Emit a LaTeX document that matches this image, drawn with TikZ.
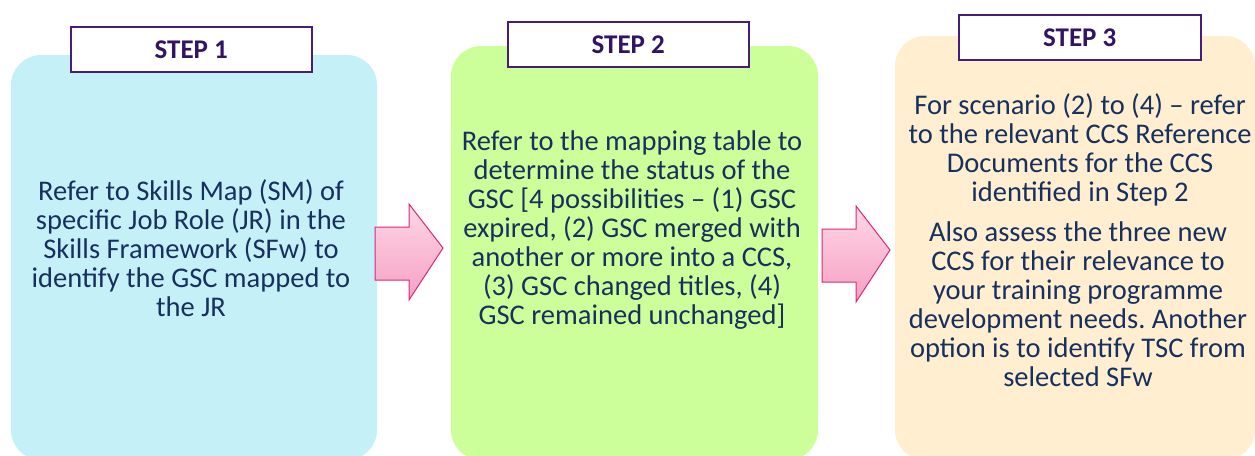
\documentclass[tikz,border=0pt]{standalone}
\usepackage{fontspec}
\setmainfont{Carlito}
\frenchspacing
\usetikzlibrary{shadings}
\definecolor{boxA}{RGB}{198,240,248}
\definecolor{boxB}{RGB}{204,255,153}
\definecolor{boxC}{RGB}{255,238,208}
\definecolor{txt}{RGB}{23,48,94}
\definecolor{steptxt}{RGB}{50,20,100}
\definecolor{stepline}{RGB}{70,30,120}
\definecolor{pinkA}{RGB}{255,215,230}
\definecolor{pinkB}{RGB}{245,160,195}
\definecolor{pinkline}{RGB}{215,40,125}
\tikzset{
  steplabel/.style={draw=stepline, line width=1.5pt, fill=white, font=\fontsize{27}{30}\selectfont\bfseries, text=steptxt},
  bodytext/.style={text=txt, align=center, font=\fontsize{28.5}{29}\selectfont},
  pinkarrow/.style={draw=pinkline, line width=1pt, top color=pinkA, bottom color=pinkB}
}
\begin{document}
\begin{tikzpicture}[x=1pt,y=-1pt]
\useasboundingbox (0,0) rectangle (1255,455);
\begin{scope}
\clip (0,0) rectangle (1255,455);
\fill[boxA, rounded corners=30pt] (11,55) rectangle (377,460);
\fill[boxB, rounded corners=30pt] (451,46) rectangle (818,460);
\fill[boxC, rounded corners=30pt] (895,36) rectangle (1255,460);
\end{scope}
% step labels
\node[steplabel, minimum width=241pt, minimum height=45pt, anchor=north west, inner sep=0pt] (s1) at (70,26) {STEP 1};
\node[steplabel, minimum width=241pt, minimum height=45pt, anchor=north west, inner sep=0pt] (s2) at (507,21) {STEP 2};
\node[steplabel, minimum width=242pt, minimum height=45pt, anchor=north west, inner sep=0pt] (s3) at (958,14) {STEP 3};
% body texts
\node[bodytext] (t1) at (191,248) {Refer to Skills Map (SM) of\\specific Job Role (JR) in the\\Skills Framework (SFw) to\\identify the GSC mapped to\\the JR};
\node[bodytext] (t2) at (632,230) {Refer to the mapping table to\\determine the status of the\\GSC [4 possibilities -- (1) GSC\\expired, (2) GSC merged with\\another or more into a CCS,\\(3) GSC changed titles, (4)\\GSC remained unchanged]};
\node[bodytext] (t3a) at (1080,150) {For scenario (2) to (4) -- refer\\to the relevant CCS Reference\\Documents for the CCS\\identified in Step 2};
\node[bodytext] (t3b) at (1078,304) {Also assess the three new\\CCS for their relevance to\\your training programme\\development needs. Another\\option is to identify TSC from\\selected SFw};
% arrows
\path[pinkarrow] (375,227) -- (409,227) -- (409,204) -- (443,248) -- (409,300) -- (409,280) -- (375,280) -- cycle;
\path[pinkarrow] (822,229) -- (856,229) -- (856,206) -- (890,250) -- (856,302) -- (856,282) -- (822,282) -- cycle;
\end{tikzpicture}
\end{document}
